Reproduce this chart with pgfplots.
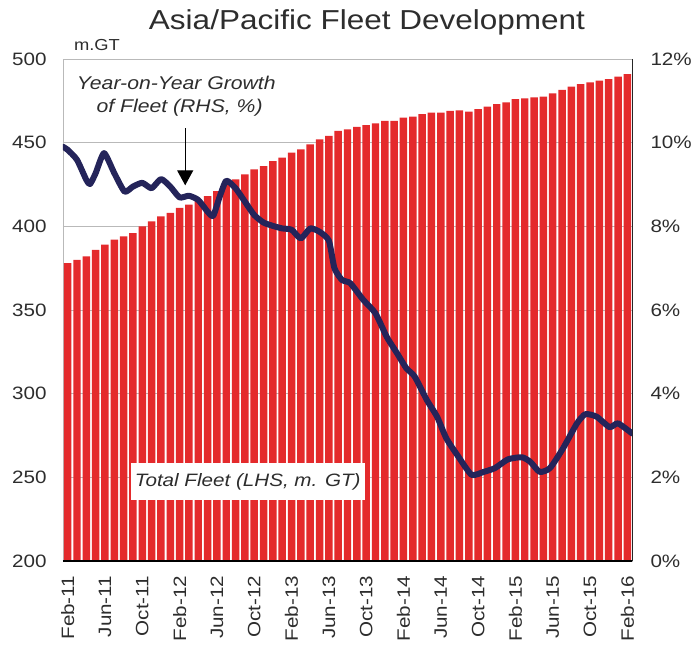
\documentclass[border=0pt]{standalone}
\usepackage{fontspec}
\setmainfont{Liberation Sans}[FakeStretch=1.15]
\usepackage{pgfplots}
\pgfplotsset{compat=1.18}
\usetikzlibrary{arrows.meta}
\definecolor{barred}{RGB}{228,42,44}
\definecolor{linenavy}{RGB}{36,36,90}
\definecolor{gridgray}{RGB}{185,185,185}
\definecolor{txt}{RGB}{45,45,45}
\begin{document}
\begin{tikzpicture}[x=1bp,y=1bp]
\begin{axis}[
  at={(0,0)}, anchor=south west,
  scale only axis, width=569bp, height=502bp,
  xmin=0.5, xmax=61.5, ymin=200, ymax=500,
  ytick={200,250,...,500},
  xtick={1,5,...,61},
  xticklabels={Feb-11,Jun-11,Oct-11,Feb-12,Jun-12,Oct-12,Feb-13,Jun-13,Oct-13,Feb-14,Jun-14,Oct-14,Feb-15,Jun-15,Oct-15,Feb-16},
  /pgf/number format/assume math mode=true,
  tick label style={font=\fontsize{18}{20}\selectfont, text=txt},
  x tick label style={yshift=-7bp, rotate=90, anchor=east},
  y tick label style={xshift=-13bp},
  tick style={draw=none},
  ymajorgrids, grid style={gridgray, line width=0.7pt},
  axis line style={draw=gridgray, line width=0.8pt},
  ybar, bar width=0.8, bar shift=0,
]
\addplot[fill=barred, draw=none] coordinates {
(1,378) (2,380) (3,382) (4,386) (5,389) (6,392) (7,394) (8,396) (9,400) (10,403)
(11,406) (12,408) (13,411) (14,413) (15,416) (16,418) (17,421) (18,425) (19,428) (20,431)
(21,434) (22,436) (23,439) (24,441) (25,444) (26,446) (27,449) (28,452) (29,454) (30,457)
(31,458) (32,459.5) (33,460.5) (34,461.5) (35,463) (36,463) (37,465) (38,465.5) (39,467) (40,468)
(41,468) (42,469) (43,469.3) (44,468.5) (45,470) (46,471.5) (47,473) (48,474) (49,476) (50,476.5)
(51,477) (52,477.5) (53,479.5) (54,481.5) (55,483.5) (56,485) (57,486) (58,487) (59,488) (60,489.5)
(61,491)};
\node[font=\fontsize{18.5}{20}\selectfont\itshape, text=txt, anchor=base] at (axis cs:12.65,481.7) {Year-on-Year Growth};
\node[font=\fontsize{18.5}{20}\selectfont\itshape, text=txt, anchor=base] at (axis cs:13.0,467.9) {of Fleet (RHS, \%)};
\draw[-{Triangle[length=15bp,width=16bp]}, line width=1.3pt, black] (axis cs:13.6,458.5) -- (axis cs:13.6,424.5);
\node[fill=white, inner xsep=4bp, minimum height=37bp, font=\fontsize{18}{20}\selectfont\itshape, text=txt] at (axis cs:20.3,247.5) {Total Fleet (LHS, m. GT)};
\end{axis}
\begin{axis}[
  at={(0,0)}, anchor=south west,
  scale only axis, width=569bp, height=502bp,
  xmin=0.5, xmax=61.5, ymin=0, ymax=12,
  axis x line=none,
  axis y line*=right,
  y axis line style={draw=black!85, line width=1pt},
  ytick={0,2,...,12},
  yticklabel={\pgfmathprintnumber{\tick}\%},
  /pgf/number format/assume math mode=true,
  tick label style={font=\fontsize{18}{20}\selectfont, text=txt},
  y tick label style={xshift=15bp},
  tick style={draw=none},
]
\addplot[linenavy, line width=6bp, line join=round, line cap=round, smooth, tension=0.35] coordinates {
(0.5,9.90) (1,9.83) (2,9.59) (3,9.11) (3.4,9.01) (4,9.27) (4.9,9.75) (6,9.27) (7.1,8.83) (8,8.95)
(9,9.04) (10,8.91) (11,9.13) (12,8.95) (13,8.69) (14,8.73) (15,8.63) (16,8.35) (16.6,8.25) (17.3,8.71)
(18,9.09) (19,8.91) (20,8.59) (21,8.27) (22,8.09) (23,8.01) (24,7.95) (25,7.92) (26,7.71) (27,7.95)
(28,7.87) (29,7.66) (29.6,7.0) (30.4,6.72) (31.3,6.64) (32.7,6.24) (34.0,5.92) (35.2,5.36) (36.3,4.97) (37.3,4.61)
(38.2,4.41) (39.5,3.85) (40.6,3.45) (41.6,2.93) (42.9,2.49) (44.3,2.06) (45.6,2.13) (46.8,2.22) (48.2,2.43) (49.7,2.48)
(50.6,2.37) (51.6,2.13) (52.7,2.22) (54.1,2.69) (55.6,3.29) (56.5,3.51) (57.7,3.45) (59.1,3.20) (60.0,3.29) (61.5,3.05)};
\end{axis}
\draw[black, line width=1.3pt] (0,0) -- (569,0);
\node[font=\fontsize{27.5}{30}\selectfont, text=txt, anchor=base] at (304,531.7) {Asia/Pacific Fleet Development};
\node[font=\fontsize{16}{18}\selectfont, text=txt, anchor=base west] at (7.5,510) {m.GT};
\pgfresetboundingbox
\path (-63,-84) rectangle (631,561);
\end{tikzpicture}
\end{document}
